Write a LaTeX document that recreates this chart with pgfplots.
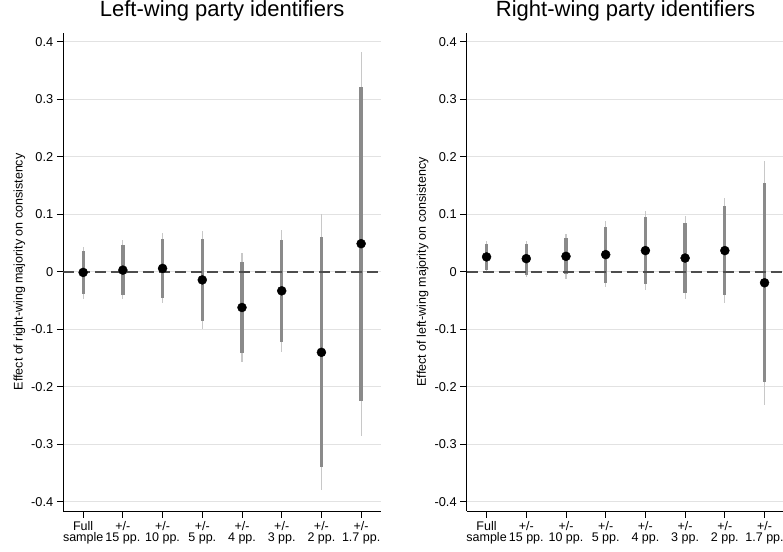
\documentclass[border=0pt]{standalone}
\usepackage{fontspec}
\setmainfont{Liberation Sans}
\usepackage{pgfplots}
\usepackage{pgfplotstable}
\pgfplotsset{compat=1.18}
\definecolor{ciwide}{HTML}{C8C8C8}
\definecolor{cinarrow}{HTML}{8A8A8A}
\definecolor{gridc}{HTML}{E2E2E2}
\definecolor{zeroc}{HTML}{4D4D4D}

\pgfplotstableread{
x est lo95 hi95 lo90 hi90
0 -0.001 -0.047 0.044 -0.039 0.037
1 0.003 -0.048 0.056 -0.040 0.047
2 0.006 -0.055 0.067 -0.045 0.057
3 -0.014 -0.099 0.071 -0.085 0.057
4 -0.062 -0.157 0.032 -0.141 0.017
5 -0.033 -0.140 0.073 -0.122 0.055
6 -0.140 -0.380 0.100 -0.340 0.060
7 0.049 -0.285 0.383 -0.224 0.321
}\leftdata

\pgfplotstableread{
x est lo95 hi95 lo90 hi90
0 0.026 -0.002 0.054 0.003 0.048
1 0.023 -0.009 0.054 -0.005 0.048
2 0.027 -0.012 0.065 -0.004 0.059
3 0.030 -0.027 0.088 -0.019 0.078
4 0.037 -0.032 0.106 -0.022 0.096
5 0.024 -0.048 0.097 -0.036 0.085
6 0.037 -0.055 0.129 -0.040 0.115
7 -0.019 -0.231 0.192 -0.192 0.154
}\rightdata

\pgfplotsset{panel/.style={
  scale only axis, width=317.7pt, height=478.3pt,
  xmin=-0.5, xmax=7.5, ymin=-0.416, ymax=0.416,
  axis x line*=bottom, axis y line*=left,
  axis line style={line width=0.9pt, black},
  xtick={0,1,2,3,4,5,6,7},
  xticklabels={{Full\\sample},{+/-\\15 pp.},{+/-\\10 pp.},{+/-\\5 pp.},{+/-\\4 pp.},{+/-\\3 pp.},{+/-\\2 pp.},{+/-\\1.7 pp.}},
  ytick={-0.4,-0.3,-0.2,-0.1,0,0.1,0.2,0.3,0.4},
  yticklabels={-0.4,-0.3,-0.2,-0.1,0,0.1,0.2,0.3,0.4},
  tick align=outside, major tick length=6.5pt,
  tick style={black, line width=0.9pt},
  ymajorgrids, grid style={gridc, line width=1pt},
  xticklabel style={font=\fontsize{12.5}{11}\selectfont, align=center},
  yticklabel style={font=\fontsize{12.8}{15}\selectfont},
  ylabel style={font=\fontsize{12.5}{15}\selectfont, at={([xshift=-44pt]axis description cs:0,0.5)}, anchor=center},
  title style={font=\fontsize{22}{26}\selectfont, at={(axis description cs:0.5,1)}, anchor=base, yshift=10.4pt},
  wide/.style={only marks, mark=none, forget plot,
    error bars/.cd, y dir=both, y explicit, error mark=none,
    error bar style={ciwide, line width=1.2pt}},
  narrow/.style={only marks, mark=none, forget plot,
    error bars/.cd, y dir=both, y explicit, error mark=none,
    error bar style={cinarrow, line width=3.3pt}},
}}

\begin{document}
\begin{tikzpicture}
\useasboundingbox (0,0) rectangle (783pt,551pt);
\begin{axis}[panel, at={(63.3pt,40pt)}, anchor=south west,
  title={Left-wing party identifiers},
  ylabel={Effect of right-wing majority on consistency}]
\addplot[wide] table[x=x, y=est, y error plus expr={\thisrow{hi95}-\thisrow{est}}, y error minus expr={\thisrow{est}-\thisrow{lo95}}] {\leftdata};
\addplot[narrow] table[x=x, y=est, y error plus expr={\thisrow{hi90}-\thisrow{est}}, y error minus expr={\thisrow{est}-\thisrow{lo90}}] {\leftdata};
\addplot[zeroc, line width=1.5pt, dash pattern=on 11pt off 5pt, forget plot] coordinates {(-0.5,0) (7.5,0)};
\addplot[only marks, mark=*, mark size=4.5pt, mark options={fill=black, draw=black}] table[x=x, y=est] {\leftdata};
\end{axis}
\begin{axis}[panel, at={(466.7pt,40pt)}, anchor=south west,
  title={Right-wing party identifiers},
  ylabel={Effect of left-wing majority on consistency}]
\addplot[wide] table[x=x, y=est, y error plus expr={\thisrow{hi95}-\thisrow{est}}, y error minus expr={\thisrow{est}-\thisrow{lo95}}] {\rightdata};
\addplot[narrow] table[x=x, y=est, y error plus expr={\thisrow{hi90}-\thisrow{est}}, y error minus expr={\thisrow{est}-\thisrow{lo90}}] {\rightdata};
\addplot[zeroc, line width=1.5pt, dash pattern=on 11pt off 5pt, forget plot] coordinates {(-0.5,0) (7.5,0)};
\addplot[only marks, mark=*, mark size=4.5pt, mark options={fill=black, draw=black}] table[x=x, y=est] {\rightdata};
\end{axis}
\end{tikzpicture}
\end{document}
